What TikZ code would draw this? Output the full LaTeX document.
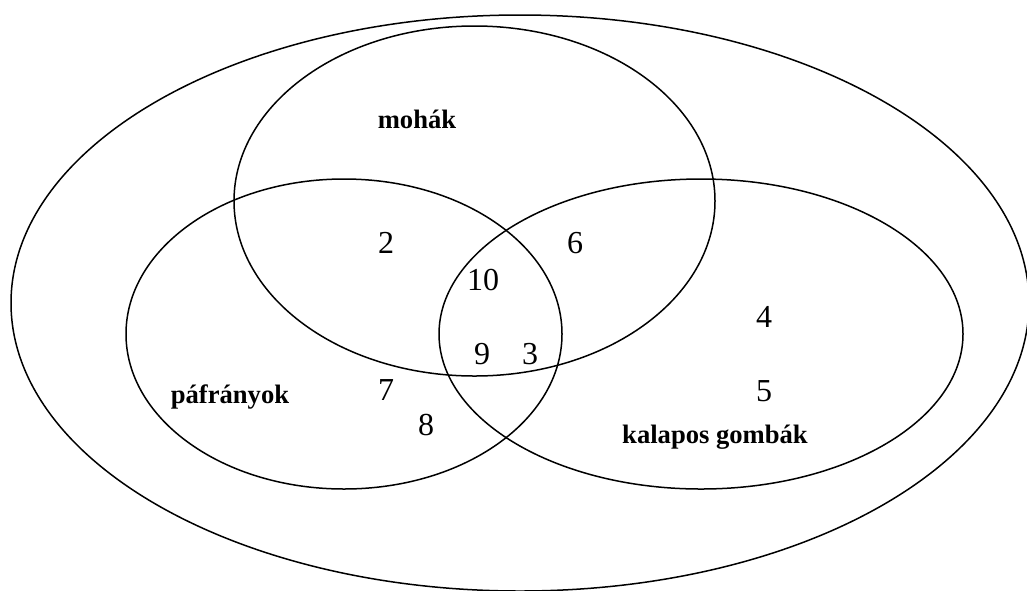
\documentclass[tikz,border=0pt]{standalone}
\usepackage{fontspec}
\setmainfont{Liberation Serif}
\begin{document}
\begin{tikzpicture}[x=1pt,y=-1pt,
	halmaz/.style={line width=1.5pt},
	nev/.style={anchor=base,font=\fontsize{26.6}{29}\selectfont\bfseries},
	szam/.style={anchor=base,font=\fontsize{32}{35}\selectfont}]
	\useasboundingbox (0,0) rectangle (1027,590);
	% sets
	\draw[halmaz] (520,303) ellipse (509 and 288);
	\draw[halmaz] (474.5,201) ellipse (240.5 and 175);
	\draw[halmaz] (344,334) ellipse (218 and 155);
	\draw[halmaz] (701,334) ellipse (262 and 155);
	% names of the sets
	\node[nev] (mohak) at (417,128) {mohák};
	\node[nev] (pafranyok) at (230,403) {páfrányok};
	\node[nev] (kalapos) at (715,443) {kalapos gombák};
	% members
	\node[szam] (n2) at (386,253) {2};
	\node[szam] (n6) at (575,253) {6};
	\node[szam] (n10) at (483,290) {10};
	\node[szam] (n9) at (482,364) {9};
	\node[szam] (n3) at (530,364) {3};
	\node[szam] (n7) at (386,400) {7};
	\node[szam] (n8) at (426,435) {8};
	\node[szam] (n4) at (764,327) {4};
	\node[szam] (n5) at (764,401) {5};
\end{tikzpicture}
\end{document}
